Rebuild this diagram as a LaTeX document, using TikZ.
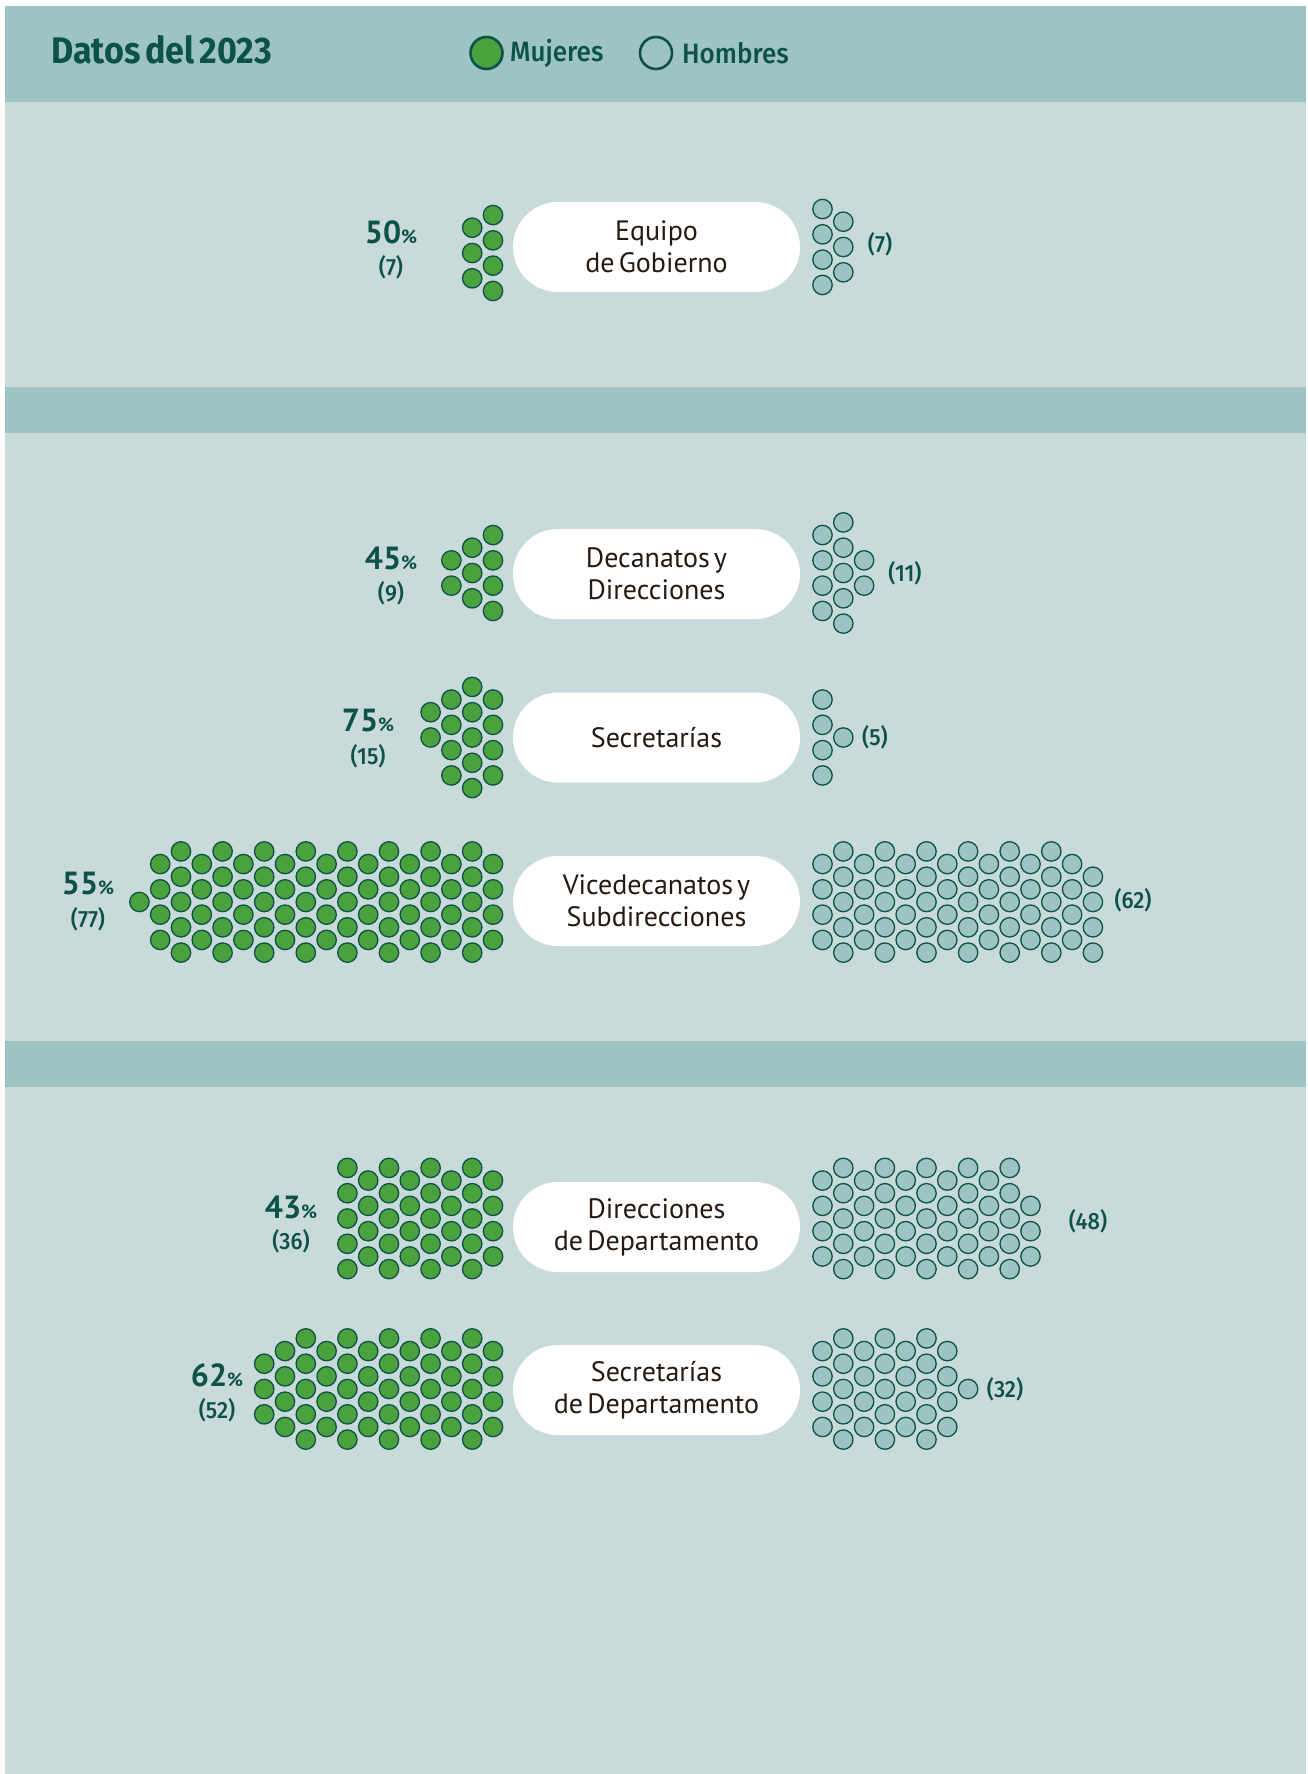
\documentclass[tikz,border=0pt]{standalone}
\usepackage{fontspec}
\setmainfont{PT Sans}[WordSpace=0.55]
\newfontfamily\headfont[FakeStretch=0.92,WordSpace=0.6]{Fira Sans Bold}
\newfontfamily\labfont[FakeStretch=0.93,WordSpace=0.6]{Fira Sans Medium}
\definecolor{bgl}{HTML}{C9DADA}
\definecolor{band}{HTML}{9DC4C2}
\definecolor{gfill}{HTML}{4CA13F}
\definecolor{dk}{HTML}{0D5247}
\definecolor{txt}{HTML}{261912}
\newcommand{\hexcol}[4]{%
  \foreach \k in {#4} \draw[#1] ({#2},{#3+(\k)*12.65}) circle[radius=9.7];%
}
\newcommand{\hexrun}[6]{%
  \foreach \j in {#5,...,#6}{%
    \ifodd\j
      \foreach \k in {-4,-2,0,2,4} \draw[#1] ({#2+(\j)*(#3)},{#4+(\k)*12.65}) circle[radius=9.7];%
    \else
      \foreach \k in {-3,-1,1,3} \draw[#1] ({#2+(\j)*(#3)},{#4+(\k)*12.65}) circle[radius=9.7];%
    \fi
  }%
}
\tikzset{
  gc/.style={fill=gfill,draw=dk,line width=1.3pt},
  mc/.style={fill=band,draw=dk,line width=1.3pt},
  pill/.style={fill=white,rounded corners=45pt,minimum width=287pt,minimum height=90pt,
    align=center,text=txt,font=\fontsize{28}{32}\selectfont,inner sep=0pt},
  cnt/.style={text=dk,font=\labfont\fontsize{23.5}{23.5}\selectfont,inner sep=0pt},
  pct/.style={text=dk,inner sep=0pt},
  legtxt/.style={text=dk,font=\labfont\fontsize{28}{28}\selectfont,anchor=west,inner sep=0pt}
}
\newcommand{\pc}[1]{{\fontsize{32}{32}\selectfont\bfseries #1}{\fontsize{19}{19}\selectfont\bfseries\%}}
\begin{document}
\begin{tikzpicture}[x=1pt,y=-1pt]
\useasboundingbox (0,0) rectangle (1308,1774);
\fill[white] (0,0) rectangle (1308,1774);
\fill[bgl] (5,6) rectangle (1306,1774);
\fill[band] (5,6) rectangle (1306,102);
\fill[band] (5,387) rectangle (1306,433);
\fill[band] (5,1041) rectangle (1306,1087);
% header
\node[anchor=base west,inner sep=0pt,text=dk,font=\headfont\fontsize{37}{37}\selectfont] (title) at (51,64) {Datos del 2023};
\draw[gc,line width=2.6pt] (486.5,53) circle[radius=16];
\node[legtxt] (lm) at (510,53) {Mujeres};
\draw[draw=dk,line width=2.6pt] (656,53) circle[radius=16];
\node[legtxt] (lh) at (682,53) {Hombres};
% pills
\node[pill] (p1) at (656.5,247) {Equipo\\de Gobierno};
\node[pill] (p2) at (656.5,574) {Decanatos y\\Direcciones};
\node[pill] (p3) at (656.5,737.5) {Secretarías};
\node[pill] (p4) at (656.5,901) {Vicedecanatos y\\Subdirecciones};
\node[pill] (p5) at (656.5,1227) {Direcciones\\de Departamento};
\node[pill] (p6) at (656.5,1390) {Secretarías\\de Departamento};
% Equipo
\hexcol{gc}{493}{253}{-3,-1,1,3}
\hexcol{gc}{472.2}{253}{-2,0,2}
\hexcol{mc}{822.5}{247}{-3,-1,1,3}
\hexcol{mc}{843.3}{247}{-2,0,2}
% Decanatos
\hexrun{gc}{493}{-20.8}{573}{0}{0}
\hexcol{gc}{472.2}{573}{-2,0,2}
\hexcol{gc}{451.4}{573}{-1,1}
\hexrun{mc}{822.5}{20.8}{573}{0}{1}
\hexcol{mc}{864.1}{573}{-1,1}
% Secretarias
\hexrun{gc}{493}{-20.8}{737.5}{0}{2}
\hexcol{gc}{430.6}{737.5}{-2,0}
\hexrun{mc}{822.5}{20.8}{737.5}{0}{0}
\hexcol{mc}{843.3}{737.5}{0}
% Vicedecanatos
\hexrun{gc}{493}{-20.8}{902}{0}{16}
\hexcol{gc}{139.4}{902}{0}
\hexrun{mc}{822.5}{20.8}{902}{0}{11}
\hexcol{mc}{1072.1}{902}{-3,-1,1,3}
\hexcol{mc}{1092.9}{902}{-2,0,2,4}
% Direcciones de Departamento
\hexrun{gc}{493}{-20.8}{1218.5}{0}{7}
\hexrun{mc}{822.5}{20.8}{1218.5}{0}{9}
\hexcol{mc}{1030.5}{1218.5}{-1,1,3}
% Secretarias de Departamento
\hexrun{gc}{493}{-20.8}{1389}{0}{10}
\hexcol{gc}{264.2}{1389}{-2,0,2}
\hexrun{mc}{822.5}{20.8}{1389}{0}{6}
\hexcol{mc}{968.1}{1389}{0}
% labels
\node[pct] (a1) at (391,232) {\pc{50}};
\node[cnt] (b1) at (391,267) {(7)};
\node[cnt] (c1) at (880,244) {(7)};
\node[pct] (a2) at (391,558) {\pc{45}};
\node[cnt] (b2) at (391,593) {(9)};
\node[cnt] (c2) at (905,573) {(11)};
\node[pct] (a3) at (368,721) {\pc{75}};
\node[cnt] (b3) at (368,756) {(15)};
\node[cnt] (c3) at (875,737) {(5)};
\node[pct] (a4) at (88,884) {\pc{55}};
\node[cnt] (b4) at (88,919) {(77)};
\node[cnt] (c4) at (1133,900) {(62)};
\node[pct] (a5) at (291,1207) {\pc{43}};
\node[cnt] (b5) at (291,1241) {(36)};
\node[cnt] (c5) at (1088,1221) {(48)};
\node[pct] (a6) at (217,1375) {\pc{62}};
\node[cnt] (b6) at (217,1410) {(52)};
\node[cnt] (c6) at (1005,1389) {(32)};
\end{tikzpicture}
\end{document}
